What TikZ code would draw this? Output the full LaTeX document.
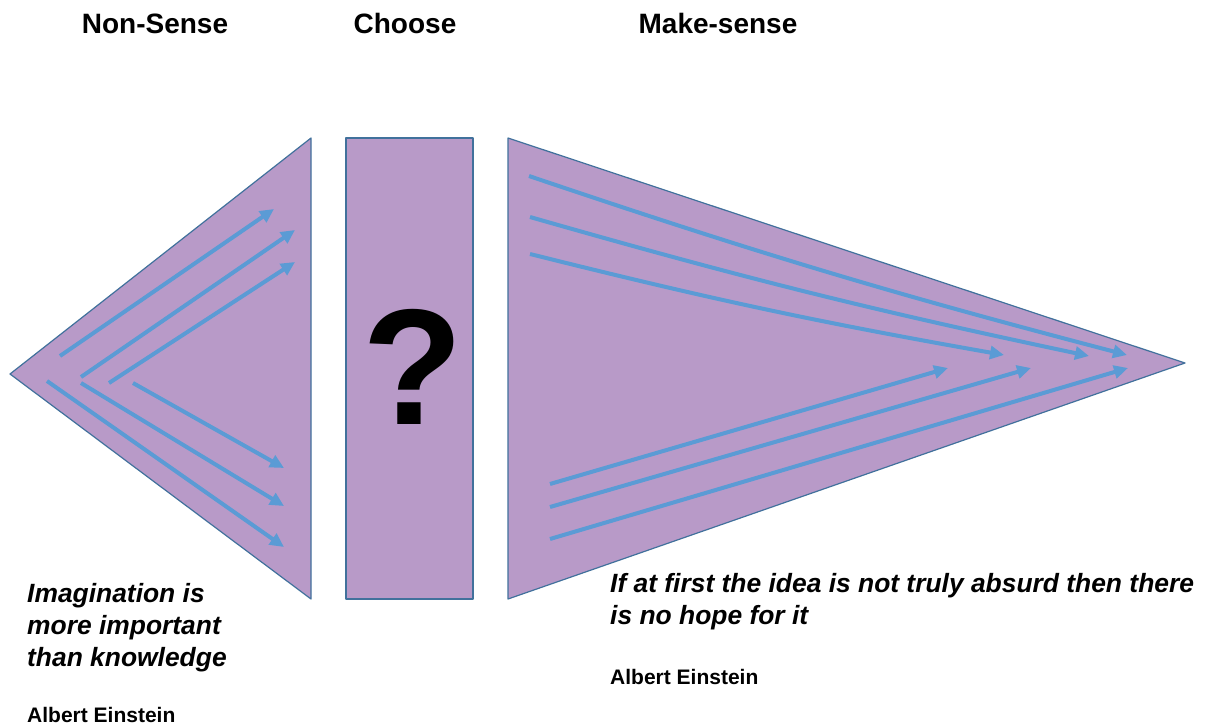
\documentclass[tikz,border=0pt]{standalone}
\usepackage{fontspec}
\setmainfont{Liberation Sans}
\usetikzlibrary{arrows.meta,positioning}

\definecolor{lilac}{HTML}{B89AC8}
\definecolor{edgeblue}{HTML}{41719C}
\definecolor{arrowblue}{HTML}{5B9BD5}

\begin{document}
\begin{tikzpicture}[x=1pt, y=-1pt,
        panel/.style = {draw=edgeblue, fill=lilac, line width=1.2pt, line join=round},
        arrow/.style = {draw=arrowblue, line width=4pt, -{Triangle[length=14pt,width=13pt]}},
        heading/.style = {anchor=base, inner sep=0pt, font=\fontsize{28}{34}\selectfont\bfseries},
        quote/.style = {anchor=base west, inner sep=0pt, align=left, font=\fontsize{26.4}{32}\selectfont\bfseries\itshape},
        author/.style = {anchor=base west, inner sep=0pt, font=\fontsize{21}{25}\selectfont\bfseries}
        ]
        \useasboundingbox (0,0) rectangle (1205,728);

        % headings
        \node[heading] (nonsense) at (155,34) {Non-Sense};
        \node[heading] (choose) at (405,34) {Choose};
        \node[heading] (makesense) at (718,34) {Make-sense};

        % panels
        \draw[panel] (10,374) -- (311,138) -- (311,599) -- cycle;
        \draw[panel] (346,138) rectangle (473,599);
        \draw[panel] (508,138) -- (1185,363) -- (508,599) -- cycle;

        \node[anchor=base, inner sep=0pt, font=\fontsize{165}{165}\selectfont\bfseries] (qmark) at (413,424) {?};

        % diverging arrows
        \draw[arrow] (60,356) -- (274,209);
        \draw[arrow] (81,377) -- (295,230);
        \draw[arrow] (109,383) -- (295,262);
        \draw[arrow] (133,383) -- (284,468);
        \draw[arrow] (81,383) -- (284,506);
        \draw[arrow] (47,381) -- (284,547);

        % converging arrows
        \draw[arrow] (529,176) to[bend right=2] (1127,355);
        \draw[arrow] (530,217) to[bend right=2] (1089,356);
        \draw[arrow] (530,254) to[bend right=2] (1004,355);
        \draw[arrow] (550,484) -- (948,368);
        \draw[arrow] (550,507) -- (1031,368);
        \draw[arrow] (550,539) -- (1128,368);

        % quotes
        \node[quote] (leftquote) at (27,666) {Imagination is\\more important\\than knowledge};
        \node[author] (leftauthor) at (27,722) {Albert Einstein};
        \node[quote] (rightquote) at (610,624) {If at first the idea is not truly absurd then there\\is no hope for it};
        \node[author] (rightauthor) at (610,684) {Albert Einstein};
    \end{tikzpicture}
\end{document}
